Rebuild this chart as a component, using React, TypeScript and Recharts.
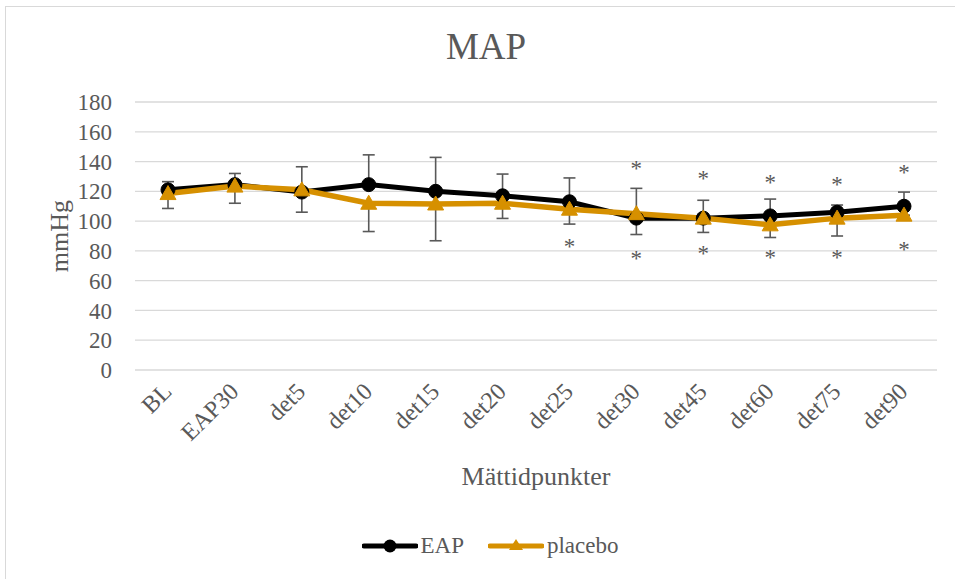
import React from "react";
import {
  LineChart,
  Line,
  XAxis,
  YAxis,
  CartesianGrid,
  ErrorBar,
  Legend,
} from "recharts";

const FONT = '"Liberation Serif", "Times New Roman", serif';
const INK = "#595959";
const GOLD = "#d69000";

const categories = [
  "BL", "EAP30", "det5", "det10", "det15", "det20",
  "det25", "det30", "det45", "det60", "det75", "det90",
];
const eap = [121, 124.5, 119.5, 124.5, 120, 117, 113, 102, 102, 103.5, 106, 110];
const placebo = [118.5, 123.5, 121, 112, 111.5, 112, 108, 105, 102, 97.5, 102, 104];
// upper whisker drawn on EAP, lower whisker on placebo
const eapErrUp = [5.5, 7.5, 17, 20, 22.8, 14.6, 16, 20, 12, 11.3, 4.8, 9.5];
const placeboErrDown = [10, 11.5, 15, 19, 24.7, 10.2, 10, 14, 9.6, 8.5, 12, 3];
// significance markers (*)
const starAbove = [null, null, null, null, null, null, null, 137.7, 131, 128, 127, 134.8];
const starBelow = [null, null, null, null, null, null, 85.5, 77.2, 80.6, 77.7, 77.7, 83.3];
const yTicks = [0, 20, 40, 60, 80, 100, 120, 140, 160, 180];

const data = categories.map((c, i) => ({
  name: c,
  EAP: eap[i],
  placebo: placebo[i],
  eapErr: [0, eapErrUp[i]],
  plErr: [placeboErrDown[i], 0],
  hi: starAbove[i],
  lo: starBelow[i],
}));

const Star = (props: any) => {
  const { cx, cy, value } = props;
  if (value == null || cy == null) return <g key={props.key} />;
  return (
    <text
      key={props.key}
      x={cx}
      y={cy + 11}
      textAnchor="middle"
      fontFamily={FONT}
      fontSize={23}
      fill={INK}
    >
      *
    </text>
  );
};

const Triangle = (props: any) => {
  const { cx, cy } = props;
  if (cy == null) return <g key={props.key} />;
  return (
    <path
      key={props.key}
      d={`M${cx},${cy - 8} L${cx + 8},${cy + 6} L${cx - 8},${cy + 6} Z`}
      fill={GOLD}
      stroke={GOLD}
      strokeWidth={1}
    />
  );
};

const XTick = (props: any) => {
  const { x, y, payload } = props;
  const tx = x + 5;
  return (
    <text
      x={tx}
      y={y}
      textAnchor="end"
      fontFamily={FONT}
      fontSize={24}
      fill={INK}
      transform={`rotate(-45, ${tx}, ${y})`}
    >
      {payload.value}
    </text>
  );
};

const LegendBox = () => (
  <div
    style={{
      display: "flex",
      justifyContent: "center",
      alignItems: "center",
      fontFamily: FONT,
      fontSize: 23,
      color: INK,
      gap: 24,
      paddingLeft: 25,
    }}
  >
    <span style={{ display: "flex", alignItems: "center" }}>
      <svg width={56} height={20}>
        <line x1={2} y1={10} x2={54} y2={10} stroke="#000" strokeWidth={5} strokeLinecap="round" />
        <circle cx={28} cy={10} r={6.5} fill="#000" />
      </svg>
      <span style={{ marginLeft: 3 }}>EAP</span>
    </span>
    <span style={{ display: "flex", alignItems: "center" }}>
      <svg width={56} height={20}>
        <line x1={2} y1={10} x2={54} y2={10} stroke={GOLD} strokeWidth={5} strokeLinecap="round" />
        <path d="M28,3 L35,14 L21,14 Z" fill={GOLD} />
      </svg>
      <span style={{ marginLeft: 3 }}>placebo</span>
    </span>
  </div>
);

export default function App() {
  return (
    <div
      style={{
        position: "absolute",
        left: 0,
        top: 0,
        width: 955,
        height: 579,
        overflow: "hidden",
        background: "#fff",
      }}
    >
      <div
        style={{
          position: "absolute",
          left: 5,
          top: 6,
          width: 1000,
          height: 700,
          border: "1px solid #d9d9d9",
        }}
      />
      <svg
        width={955}
        height={80}
        style={{ position: "absolute", left: 0, top: 0 }}
      >
        <text x={486} y={59} textAnchor="middle" fontFamily={FONT} fontSize={37} fill={INK}>
          MAP
        </text>
      </svg>
      <div style={{ position: "absolute", left: 0, top: 0 }}>
        <LineChart
          width={955}
          height={579}
          data={data}
          margin={{ top: 102, right: 18, left: 0, bottom: 79 }}
        >
          <CartesianGrid vertical={false} stroke="#d9d9d9" strokeWidth={1.3} />
          <XAxis
            dataKey="name"
            height={130}
            padding={{ left: 33, right: 33 }}
            axisLine={false}
            tickLine={false}
            tickSize={0}
            tickMargin={23}
            interval={0}
            tick={<XTick />}
            label={{
              content: (p: any) => {
                const vb = p.viewBox;
                return (
                  <text
                    x={536}
                    y={vb.y + 115}
                    textAnchor="middle"
                    fontFamily={FONT}
                    fontSize={26}
                    fill={INK}
                  >
                    Mättidpunkter
                  </text>
                );
              },
            }}
          />
          <YAxis
            width={135}
            domain={[0, 180]}
            ticks={yTicks}
            interval={0}
            axisLine={false}
            tickLine={false}
            tickSize={0}
            tickMargin={23}
            tick={{ fontFamily: FONT, fontSize: 23, fill: INK }}
            label={{
              content: (p: any) => {
                const vb = p.viewBox;
                const cy = vb.y + vb.height / 2;
                return (
                  <text
                    x={68}
                    y={cy}
                    textAnchor="middle"
                    fontFamily={FONT}
                    fontSize={26}
                    fill={INK}
                    transform={`rotate(-90, 68, ${cy})`}
                  >
                    mmHg
                  </text>
                );
              },
            }}
          />
          <Legend
            layout="horizontal"
            verticalAlign="middle"
            align="center"
            wrapperStyle={{ top: 533, left: 0, width: 955 }}
            content={<LegendBox />}
          />
          <Line
            dataKey="EAP"
            stroke="#000"
            strokeWidth={5}
            dot={{ r: 7, fill: "#000", stroke: "#000", strokeWidth: 1 }}
            activeDot={false}
            isAnimationActive={false}
          >
            <ErrorBar dataKey="eapErr" direction="y" width={6} stroke={INK} strokeWidth={1.6} />
          </Line>
          <Line
            dataKey="placebo"
            stroke={GOLD}
            strokeWidth={5.5}
            dot={<Triangle />}
            activeDot={false}
            isAnimationActive={false}
          >
            <ErrorBar dataKey="plErr" direction="y" width={6} stroke={INK} strokeWidth={1.6} />
          </Line>
          <Line
            dataKey="hi"
            stroke="none"
            dot={<Star />}
            activeDot={false}
            legendType="none"
            isAnimationActive={false}
          />
          <Line
            dataKey="lo"
            stroke="none"
            dot={<Star />}
            activeDot={false}
            legendType="none"
            isAnimationActive={false}
          />
        </LineChart>
      </div>
    </div>
  );
}
